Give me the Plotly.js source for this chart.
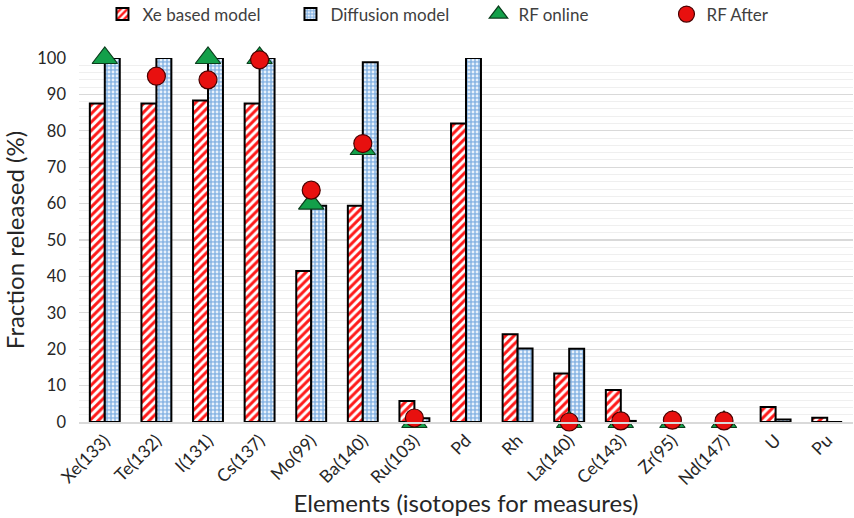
<!DOCTYPE html>
<html>
<head>
<meta charset="utf-8">
<script src="https://cdn.plot.ly/plotly-3.0.1.min.js"></script>
<style>html,body{margin:0;padding:0;background:#fff;}#chart{width:854px;height:518px;}</style>
</head>
<body>
<div id="chart"></div>
<script>
const categories = ["Xe(133)", "Te(132)", "I(131)", "Cs(137)", "Mo(99)", "Ba(140)", "Ru(103)", "Pd", "Rh", "La(140)", "Ce(143)", "Zr(95)", "Nd(147)", "U", "Pu"];
const xeBased   = [87.5, 87.5, 88.3, 87.5, 41.5, 59.4, 5.8, 82, 24.1, 13.3, 8.8, null, null, 4.1, 1.2];
const diffusion = [100, 100, 100, 100, 59.4, 98.8, 1.0, 100, 20.2, 20.1, 0.3, null, null, 0.7, 0];
const rfOnline  = [100, null, 100, 100, 60, 75, 0, null, null, 0, 0, 0, 0, null, null];
const rfAfter   = [null, 95, 94, 99.5, 63.7, 76.5, 1.1, null, null, 0, 0.3, 0.5, 0.3, null, null];
const yTicks = [0, 10, 20, 30, 40, 50, 60, 70, 80, 90, 100];

const FONT = "Lato, 'Open Sans', sans-serif";

const traces = [
  {
    type: "bar", name: "Xe based model", x: categories, y: xeBased,
    marker: {color: "#ffffff", line: {color: "#000000", width: 2},
             pattern: {shape: "/", fgcolor: "#ff1a1a", bgcolor: "#ffffff", size: 6, solidity: 0.5}}
  },
  {
    type: "bar", name: "Diffusion model", x: categories, y: diffusion,
    marker: {color: "#9cc2ea", line: {color: "#000000", width: 2},
             pattern: {shape: ".", fgcolor: "#e8f1fb", bgcolor: "#8ab6e4", size: 4, solidity: 0.4}}
  },
  {
    type: "scatter", mode: "markers", name: "RF online", x: categories, y: rfOnline, cliponaxis: false,
    marker: {symbol: "triangle-up", size: 22, color: "#13a04a", line: {color: "#0a3d1c", width: 1.2}}
  },
  {
    type: "scatter", mode: "markers", name: "RF After", x: categories, y: rfAfter, cliponaxis: false,
    marker: {symbol: "circle", size: 18, color: "#e8100f", line: {color: "#4a0000", width: 1.2}}
  }
];

const layout = {
  width: 854, height: 518,
  margin: {l: 79, r: 1, t: 58, b: 96},
  paper_bgcolor: "#ffffff", plot_bgcolor: "#ffffff",
  font: {family: FONT, color: "#262626", size: 16},
  barmode: "group", bargap: 0.42, bargroupgap: 0,
  showlegend: true,
  legend: {orientation: "h", xref: "container", yref: "container", x: 0.12, xanchor: "left", y: 0.972, yanchor: "middle",
           font: {size: 17, color: "#404040"}, entrywidth: 143, traceorder: "normal"},
  xaxis: {
    type: "category", range: [-0.5, 14.5], tickangle: -45,
    showgrid: false, showline: true, linecolor: "#d9d9d9", linewidth: 1.5, ticks: "",
    tickfont: {size: 17.5, color: "#262626"},
    title: {text: "Elements (isotopes for measures)", font: {size: 24, color: "#262626"}, standoff: 2}
  },
  yaxis: {
    range: [0, 100], tickvals: yTicks, ticks: "", zeroline: false, showline: false,
    showgrid: true, gridcolor: "#d9d9d9", gridwidth: 1.2,
    minor: {dtick: 2, showgrid: true, gridcolor: "#efefef", gridwidth: 1},
    tickfont: {size: 16.5, color: "#262626"}, ticklabelstandoff: 12,
    title: {text: "Fraction released (%)", font: {size: 24, color: "#262626"}, standoff: 6}
  }
};

Plotly.newPlot("chart", traces, layout, {displayModeBar: false, staticPlot: true});
</script>
</body>
</html>
